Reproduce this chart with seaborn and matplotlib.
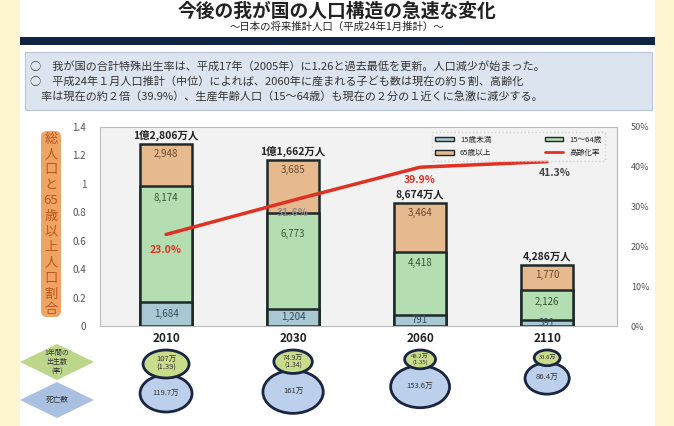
import numpy as np
import pandas as pd
import matplotlib
matplotlib.use('Agg')
import matplotlib.pyplot as plt
import seaborn as sns
from matplotlib.patches import Rectangle, Ellipse, Polygon, FancyBboxPatch, Patch
from matplotlib.lines import Line2D

# ---------------- data ----------------
years = ['2010', '2030', '2060', '2110']
pop_under15 = [1684, 1204, 791, 391]        # 万人
pop_15_64 = [8174, 6773, 4418, 2126]
pop_65over = [2948, 3685, 3464, 1770]
total_labels = ['1億2,806万人', '1億1,662万人', '8,674万人', '4,286万人']
aging_rate = [23.0, 31.6, 39.9, 41.3]       # %
aging_labels = ['23.0%', '31.6%', '39.9%', '41.3%']
births = [107, 74.9, 48.2, 33.6]            # 万人
birth_labels = ['107万\n(1.39)', '74.9万\n(1.34)', '48.2万\n(1.35)', '33.6万']
deaths = [119.7, 161, 153.6, 86.4]
death_labels = ['119.7万', '161万', '153.6万', '86.4万']
left_ticks = [0, 0.2, 0.4, 0.6, 0.8, 1.0, 1.2, 1.4]
left_tick_labels = ['0', '0.2', '0.4', '0.6', '0.8', '1', '1.2', '1.4']
right_ticks = [0, 10, 20, 30, 40, 50]
right_tick_labels = ['0%', '10%', '20%', '30%', '40%', '50%']
legend_labels = ['15歳未満', '65歳以上', '15～64歳', '高齢化率']
ylabel_chars = ['総', '人', '口', 'と', '65', '歳', '以', '上', '人', '口', '割', '合']
title = '今後の我が国の人口構造の急速な変化'
subtitle = '～日本の将来推計人口（平成24年1月推計）～'
notes = ['○　我が国の合計特殊出生率は、平成17年（2005年）に1.26と過去最低を更新。人口減少が始まった。',
         '○　平成24年１月人口推計（中位）によれば、2060年に産まれる子ども数は現在の約５割、高齢化',
         '　率は現在の約２倍（39.9%）、生産年齢人口（15～64歳）も現在の２分の１近くに急激に減少する。']

sns.set_theme(style='white')
plt.rcParams['font.family'] = ['Noto Sans CJK JP', 'DejaVu Sans']

C65, C1564, C15 = '#E6B98E', '#B4DEB2', '#A8C8D2'
EDGE = '#1E2A2A'
RED = '#E03222'

W, H = 674, 426
fig = plt.figure(figsize=(W / 100, H / 100), dpi=100)

# ---------------- decoration layer (pixel coords) ----------------
deco = fig.add_axes([0, 0, 1, 1], zorder=0)
deco.set_xlim(0, W)
deco.set_ylim(H, 0)
deco.axis('off')
deco.add_patch(Rectangle((0, 0), W, H, fc='#FDF5CF', ec='none'))
deco.add_patch(Rectangle((20, 0), 635, H, fc='white', ec='none'))
deco.add_patch(Rectangle((20, 37), 635, 8, fc='#102544', ec='none'))
deco.add_patch(Rectangle((25, 52), 627, 58, fc='#DCE5EF', ec='#B8C6D8', lw=0.8))
deco.text(337, 11, title, ha='center', va='center', fontsize=13.5, fontweight='bold', color='#222')
deco.text(337, 27, subtitle, ha='center', va='center', fontsize=7.5, color='#222')
for k, line in enumerate(notes):
    deco.text(30, 66 + k * 15, line, ha='left', va='center', fontsize=8, color='#333')

# vertical y label box
deco.add_patch(FancyBboxPatch((41, 131), 20, 186, boxstyle='round,pad=0,rounding_size=6',
                              fc='#F0A464', ec='none'))
for k, ch in enumerate(ylabel_chars):
    deco.text(51, 139 + k * 15.5, ch, ha='center', va='center', fontsize=9.5, color='#B8581C')

# diamonds
deco.add_patch(Polygon([(20, 362), (57, 344), (94, 362), (57, 380)], closed=True, fc='#BCD68A', ec='none'))
deco.add_patch(Polygon([(20, 400), (57, 382), (94, 400), (57, 418)], closed=True, fc='#A9C0E0', ec='none'))
deco.text(57, 362, '1年間の\n出生数\n(率)', ha='center', va='center', fontsize=5, color='#333', linespacing=1.1)
deco.text(57, 400, '死亡数', ha='center', va='center', fontsize=5.5, color='#333')

# ---------------- main chart ----------------
AX_L, AX_T, AX_W, AX_H = 100, 127, 517, 199
XMIN, XMAX = -0.52, 3.55
ax = fig.add_axes([AX_L / W, (H - AX_T - AX_H) / H, AX_W / W, AX_H / H], zorder=2)
ax.set_facecolor('#F2F2F2')

df = pd.DataFrame({
    'year': years,
    'total': (np.array(pop_under15) + np.array(pop_15_64) + np.array(pop_65over)) / 10000,
    'lower2': (np.array(pop_under15) + np.array(pop_15_64)) / 10000,
    'lower1': np.array(pop_under15) / 10000,
})
for col, c in [('total', C65), ('lower2', C1564), ('lower1', C15)]:
    sns.barplot(data=df, x='year', y=col, color=c, saturation=1, width=0.41,
                edgecolor=EDGE, linewidth=1.8, errorbar=None, ax=ax)

ax.set_xlim(XMIN, XMAX)
ax.set_ylim(0, 1.4)
ax.set_xlabel('')
ax.set_ylabel('')
ax.set_yticks(left_ticks)
ax.set_yticklabels(left_tick_labels, fontsize=7, color='#555')
ax.set_xticks(range(len(years)))
ax.set_xticklabels(years, fontsize=8.5, fontweight='bold', color='#222')
ax.tick_params(axis='y', length=0, pad=10)
ax.tick_params(axis='x', length=0, pad=4)
for s in ax.spines.values():
    s.set_color('#BBBBBB')
    s.set_linewidth(0.8)

# segment labels
mid_off = [0.085, 0.15, 0.08, 0.08]
for i in range(len(years)):
    lo = pop_under15[i] / 10000
    mid = pop_15_64[i] / 10000
    hi = pop_65over[i] / 10000
    ax.text(i, lo / 2, f'{pop_under15[i]:,}', ha='center', va='center', fontsize=7, color='#34495A')
    ax.text(i, lo + mid - mid_off[i], f'{pop_15_64[i]:,}', ha='center', va='center', fontsize=7, color='#2F5A35')
    ax.text(i, lo + mid + hi - 0.07, f'{pop_65over[i]:,}', ha='center', va='center', fontsize=7, color='#6A4A30')
    ax.text(i, lo + mid + hi + 0.02, total_labels[i], ha='center', va='bottom', fontsize=7.5,
            fontweight='bold', color='#222')

# aging rate line
ax2 = ax.twinx()
sns.lineplot(x=np.arange(len(years)), y=aging_rate, ax=ax2, color=RED, lw=2.5)
ax2.set_ylim(0, 50)
ax2.set_xlim(XMIN, XMAX)
ax2.set_yticks(right_ticks)
ax2.set_yticklabels(right_tick_labels, fontsize=6.5, color='#555')
ax2.tick_params(axis='y', length=0, pad=10)
for s in ax2.spines.values():
    s.set_visible(False)
label_colors = [RED, '#8A8A8A', RED, '#444']
label_off = [-4.0, -3.3, -3.3, -2.8]
label_dx = [0.0, 0.0, 0.0, 0.06]
for i, v in enumerate(aging_rate):
    ax2.text(i + label_dx[i], v + label_off[i], aging_labels[i], ha='center', va='center',
             fontsize=7.5, fontweight='bold', color=label_colors[i])

handles = [Patch(fc=C15, ec=EDGE, lw=1), Patch(fc=C65, ec=EDGE, lw=1),
           Patch(fc=C1564, ec=EDGE, lw=1), Line2D([], [], color=RED, lw=2)]
leg = ax2.legend(handles, legend_labels, ncol=2, loc='upper right', bbox_to_anchor=(0.985, 0.995),
                 fontsize=5.5, frameon=True, columnspacing=7, handlelength=2.4, handleheight=0.6,
                 borderpad=0.5, labelspacing=0.7)
leg.get_frame().set_edgecolor('#CCCCCC')
leg.get_frame().set_linestyle(':')
leg.get_frame().set_facecolor('#F2F2F2')

# ---------------- bottom ellipses (births / deaths) ----------------
def xpx(i):
    return AX_L + (i - XMIN) / (XMAX - XMIN) * AX_W

birth_fs = [5.5, 5, 4.3, 4.3]
for i in range(len(years)):
    sb = np.sqrt(births[i] / births[0])
    sd = np.sqrt(deaths[i] / deaths[0])
    gw, gh = 46 * sb, 28 * sb
    bw, bh = 52 * sd, 37 * sd
    cx = xpx(i)
    gy = 350 + gh / 2
    by = 350 + gh + bh / 2 - 3
    deco.add_patch(Ellipse((cx, by), bw, bh, fc='#BCD0EC', ec='#1A2540', lw=2, zorder=3))
    deco.add_patch(Ellipse((cx, gy), gw, gh, fc='#C8DC8C', ec='#1A2540', lw=2, zorder=4))
    deco.text(cx, gy, birth_labels[i], ha='center', va='center', fontsize=birth_fs[i],
              color='#333', linespacing=1.0, zorder=5)
    deco.text(cx, by, death_labels[i], ha='center', va='center', fontsize=5.5, color='#333', zorder=5)

fig.savefig('out.png', dpi=100)
